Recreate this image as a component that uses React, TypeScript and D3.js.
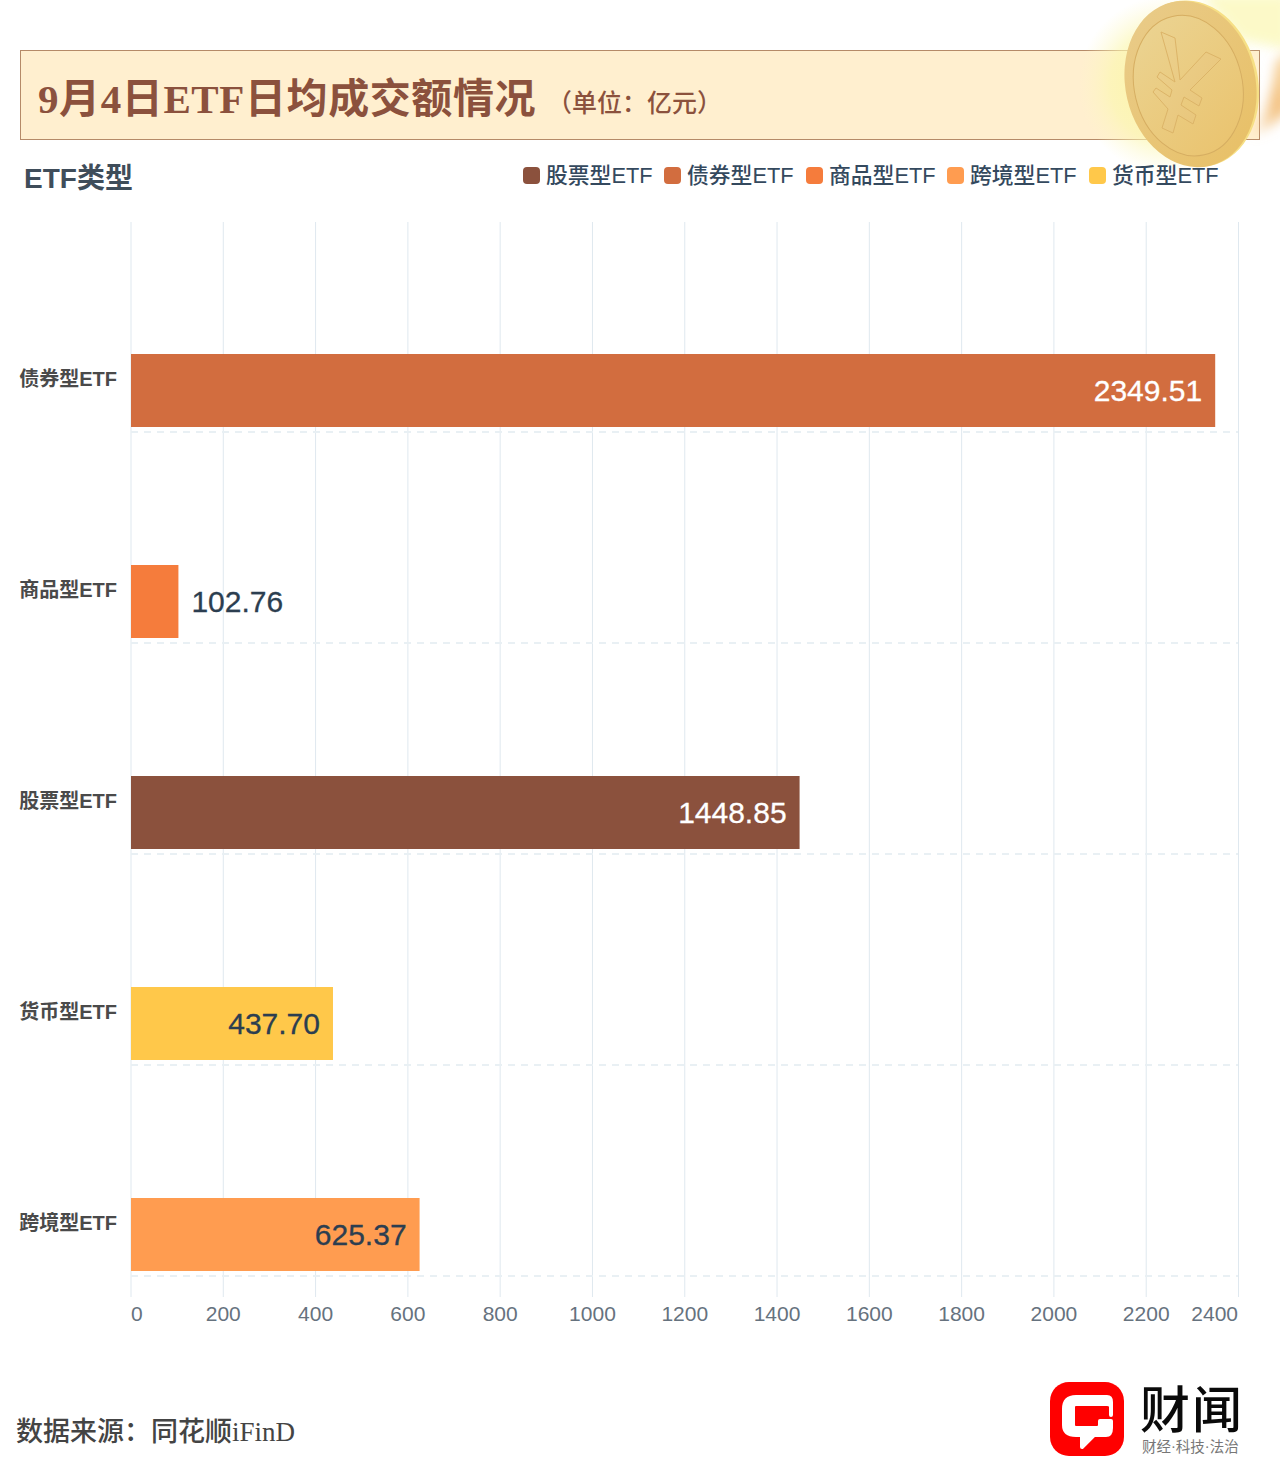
import React from "react";
import * as d3 from "d3";

const categories = ["债券型ETF", "商品型ETF", "股票型ETF", "货币型ETF", "跨境型ETF"];
const values = [2349.51, 102.76, 1448.85, 437.7, 625.37];
const barColors = ["#d26d3f", "#f57c3c", "#8b513d", "#ffc84a", "#ff9c50"];
const labelColors = ["#ffffff", "#2c3e50", "#ffffff", "#2c3e50", "#2c3e50"];
const labelInside = [true, false, true, true, true];
const legendNames = ["股票型ETF", "债券型ETF", "商品型ETF", "跨境型ETF", "货币型ETF"];
const legendColors = ["#8b513d", "#d26d3f", "#f57c3c", "#ff9c50", "#ffc84a"];
const legendX = [523, 664, 806, 947, 1089];
const ticks = d3.range(0, 2401, 200);

const SANS = "'Liberation Sans', 'Noto Sans CJK SC', sans-serif";
const SERIF = "'Liberation Serif', 'Noto Sans CJK SC', serif";

export default function App() {
  const x = d3.scaleLinear().domain([0, 2400]).range([131, 1238.5]);
  const y = d3.scaleBand().domain(categories).range([221, 1276]);
  const barH = 73;
  const barOff = 133;

  return (
    <svg
      width={1280}
      height={1484}
      viewBox="0 0 1280 1484"
      style={{ position: "absolute", left: 0, top: 0, display: "block", background: "#fff" }}
    >
      <defs>
        <radialGradient id="glow" cx="50%" cy="50%" r="50%">
          <stop offset="0%" stopColor="#fbf59a" stopOpacity={0.95} />
          <stop offset="65%" stopColor="#fbf7b0" stopOpacity={0.65} />
          <stop offset="100%" stopColor="#fdf8c8" stopOpacity={0} />
        </radialGradient>
        <linearGradient id="streak" x1="0" y1="1" x2="1" y2="0">
          <stop offset="0%" stopColor="#f2c07a" stopOpacity={0.2} />
          <stop offset="50%" stopColor="#f3bf7c" stopOpacity={0.95} />
          <stop offset="100%" stopColor="#f6cf8c" stopOpacity={0.8} />
        </linearGradient>
        <linearGradient id="coinRim" x1="0.2" y1="0" x2="0.8" y2="1">
          <stop offset="0%" stopColor="#e9cb88" />
          <stop offset="100%" stopColor="#e8c067" />
        </linearGradient>
        <linearGradient id="coinFace" x1="0.2" y1="0" x2="0.7" y2="1">
          <stop offset="0%" stopColor="#ebd391" />
          <stop offset="100%" stopColor="#eac470" />
        </linearGradient>
        <linearGradient id="yen" x1="0" y1="0" x2="1" y2="1">
          <stop offset="0%" stopColor="#ecd28f" />
          <stop offset="100%" stopColor="#e8c376" />
        </linearGradient>
        <filter id="blur6" x="-50%" y="-50%" width="200%" height="200%">
          <feGaussianBlur stdDeviation="6" />
        </filter>
        <clipPath id="pageClip">
          <rect x={0} y={0} width={1280} height={1484} />
        </clipPath>
      </defs>

      {/* title banner */}
      <rect x={20.5} y={50.5} width={1239} height={89} fill="#ffefcf" stroke="#b58a68" strokeWidth={1} />
      <text x={38} y={113} fontFamily={SERIF} fontSize={41} fontWeight={700} fill="#8b513d" letterSpacing={0.6}>
        9月4日ETF日均成交额情况
      </text>
      <text x={547} y={112} fontFamily={SERIF} fontSize={25} fontWeight={500} fill="#8b513d">
        （单位：亿元）
      </text>

      {/* coin */}
      <g clipPath="url(#pageClip)">
        <ellipse cx={1170} cy={85} rx={92} ry={90} fill="url(#glow)" />
        <path d="M1200 -6 L1290 -6 L1290 50 L1240 40Z" fill="#fbf8b6" opacity={0.75} filter="url(#blur6)" />
        <path d="M1252 136 Q1272 106 1276 62 L1290 50 L1290 108 Q1274 128 1252 136Z" fill="url(#streak)" filter="url(#blur6)" />
      </g>
      <g transform="rotate(-13 1191 84)">
        <ellipse cx={1193} cy={84} rx={65} ry={84} fill="#f6df85" />
        <ellipse cx={1190.5} cy={84} rx={65} ry={84} fill="url(#coinRim)" />
        <ellipse cx={1188} cy={85} rx={54} ry={71} fill="url(#coinFace)" stroke="#d6ae62" strokeWidth={1} />
      </g>
      <path
        d="M1161 32 L1175 38 L1180 80 L1206 52 L1221 59 L1190 90 L1202 98 L1199 106 L1184 97 L1181 105 L1196 115 L1193 124 L1178 115 L1173 133 L1162 128 L1168 109 L1153 92 L1156 88 L1170 97 L1172 90 L1157 77 L1160 72 L1175 82Z"
        fill="url(#yen)"
        stroke="#dcb468"
        strokeWidth={1}
        strokeLinejoin="miter"
      />

      {/* sub header */}
      <text x={24} y={188} fontFamily={SANS} fontSize={28} fontWeight={700} fill="#3f4d5a">ETF类型</text>
      {legendNames.map((name, i) => (
        <g key={name}>
          <rect x={legendX[i]} y={167} width={17} height={17} rx={4} fill={legendColors[i]} />
          <text x={legendX[i] + 23} y={183} fontFamily={SANS} fontSize={21.8} fontWeight={500} fill="#34495e">{name}</text>
        </g>
      ))}

      {/* grid */}
      {ticks.map((t) => (
        <line key={t} x1={x(t)} x2={x(t)} y1={222} y2={1297} stroke="#dfe8ef" strokeWidth={1} />
      ))}
      {categories.map((c) => (
        <line
          key={c}
          x1={131}
          x2={1238}
          y1={(y(c) as number) + y.bandwidth()}
          y2={(y(c) as number) + y.bandwidth()}
          stroke="#e9f0f4"
          strokeWidth={2}
          strokeDasharray="7 6"
        />
      ))}

      {/* bars */}
      {categories.map((c, i) => {
        const top = (y(c) as number) + barOff;
        const xe = x(values[i]);
        return (
          <g key={c}>
            <rect x={x(0)} y={top} width={xe - x(0)} height={barH} fill={barColors[i]} />
            <text
              x={labelInside[i] ? xe - 13 : xe + 13}
              y={top + 47}
              textAnchor={labelInside[i] ? "end" : "start"}
              fontFamily={SANS}
              fontSize={30}
              fill={labelColors[i]}
              stroke={labelColors[i]}
              strokeWidth={0.3}
            >
              {values[i].toFixed(2)}
            </text>
            <text
              x={117}
              y={top + 32}
              textAnchor="end"
              fontFamily={SANS}
              fontSize={20}
              fontWeight={700}
              fill="#4a4a4a"
            >
              {c}
            </text>
          </g>
        );
      })}

      {/* x axis labels */}
      {ticks.map((t, i) => (
        <text
          key={t}
          x={i === 0 ? 131 : t === 2400 ? 1238 : x(t)}
          y={1321}
          textAnchor={i === 0 ? "start" : t === 2400 ? "end" : "middle"}
          fontFamily={SANS}
          fontSize={21}
          fill="#66727e"
        >
          {t}
        </text>
      ))}

      {/* footer */}
      <text x={16} y={1441} fontFamily={SERIF} fontSize={27} fontWeight={500} fill="#444444">
        数据来源：同花顺iFinD
      </text>

      {/* logo */}
      <rect x={1050} y={1382} width={74} height={74} rx={19} fill="#ff0000" />
      <path
        d="M1107 1397 L1076 1397 Q1064 1397 1064 1409 L1064 1425 Q1064 1435 1076 1435 L1082 1435 L1082 1447 L1094 1435 L1106 1435 Q1111 1435 1111 1428 L1111 1421 L1100 1421 L1100 1425 Q1100 1428 1097 1428 L1076 1428 Q1073 1428 1073 1425 L1073 1407 Q1073 1404 1076 1404 L1107 1404 Q1111 1404 1111 1407 L1111 1415 L1111 1402 Q1111 1397 1107 1397Z"
        fill="#ffffff"
        stroke="#ffffff"
        strokeWidth={4}
        strokeLinejoin="round"
      />
      <text x={1140} y={1428} fontFamily={SERIF} fontSize={50} fontWeight={500} fill="#0a0a0a" letterSpacing={2}>财闻</text>
      <text x={1142} y={1452} fontFamily={SERIF} fontSize={14.5} fill="#777777">财经·科技·法治</text>
    </svg>
  );
}
